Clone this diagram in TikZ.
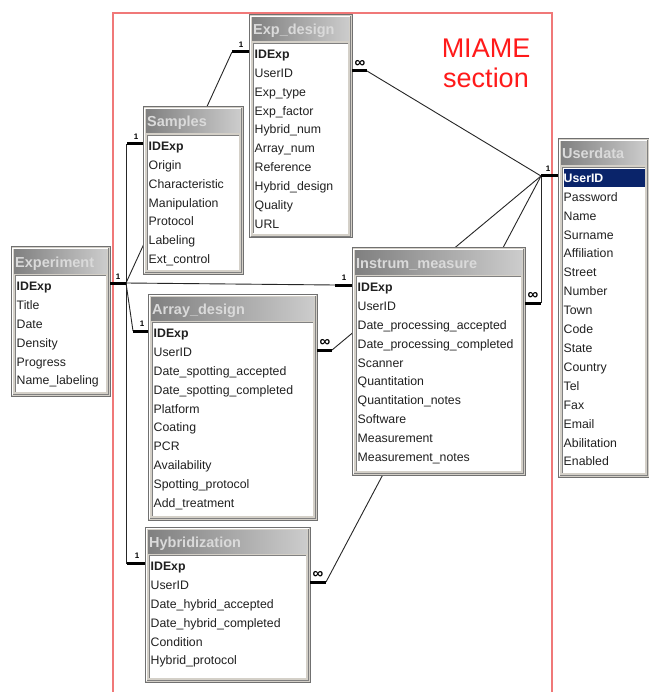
\documentclass[tikz,border=0pt]{standalone}
\usepackage{fontspec}
\setmainfont{Liberation Sans}
\definecolor{framegray}{HTML}{D4D0C8}
\definecolor{frameedge}{HTML}{707070}
\definecolor{tgleft}{HTML}{808080}
\definecolor{tgright}{HTML}{CCCCCC}
\definecolor{titletxt}{HTML}{DADADA}
\definecolor{hlnavy}{HTML}{0A246A}
\definecolor{redframe}{HTML}{F07878}
\definecolor{miamered}{HTML}{FF1A1A}
\definecolor{rowink}{HTML}{202020}
\tikzset{
  frame/.style={anchor=north west, inner sep=0pt, outer sep=0pt, fill=framegray, draw=frameedge, line width=1pt},
  rowtext/.style={anchor=base west, inner sep=0pt, font=\fontsize{12.3}{14}\selectfont, text=rowink},
  ttl/.style={anchor=base west, inner sep=0pt, font=\bfseries\fontsize{14.5}{16}\selectfont, text=titletxt},
  conn/.style={draw=black!85, line width=0.9pt},
  bar/.style={draw=black, line width=3pt},
  onelbl/.style={inner sep=0pt, font=\bfseries\fontsize{8}{8}\selectfont},
  manylbl/.style={inner sep=0pt, font=\bfseries\fontsize{15}{15}\selectfont},
  miame/.style={align=center, inner sep=0pt, text=miamered, font=\fontsize{27}{30}\selectfont},
}
\newcommand\hlrow[1]{{\setlength{\fboxsep}{0pt}\colorbox{hlnavy}{\rule[-5pt]{0pt}{18pt}\makebox[81pt][l]{\textcolor{white}{\bfseries #1}}}}}
% #1 name, #2 title, #3 left, #4 top, #5 right, #6 bottom, #7 rows
\newcommand\ertable[7]{%
  \node[frame, minimum width=#5pt-#3pt, minimum height=#6pt-#4pt] (#1) at (#3,#4) {};
  \draw[white, line width=1pt] (#3+1.5,#6-1.5) -- (#3+1.5,#4+1.5) -- (#5-1.5,#4+1.5);
  \draw[gray, line width=1.5pt] (#3+1.5,#6-1.5) -- (#5-1.5,#6-1.5) -- (#5-1.5,#4+1.5);
  \shade[left color=tgleft, right color=tgright] (#3+3,#4+3) rectangle (#5-3,#4+26);
  \node[ttl] (#1-t) at (#3+4,#4+20) {#2};
  \fill[white] (#3+4,#4+28) rectangle (#5-4,#6-4);
  \draw[gray, line width=1pt] (#3+4.5,#6-4.5) -- (#3+4.5,#4+28.5) -- (#5-4.5,#4+28.5);
  \foreach \r [count=\i] in {#7} \node[rowtext] (#1-\i) at (#3+5.5,#4+43.4+18.9*\i-18.9) {\r};
}
\begin{document}
\begin{tikzpicture}[x=1pt,y=-1pt]
\useasboundingbox (0,0) rectangle (648,692);
\fill[white] (0,0) rectangle (648,692);
% MIAME section frame
\draw[redframe, line width=1.3pt] (113,692) -- (113,13) -- (552,13) -- (552,692);
\node[miame] (miame) at (486,63) {MIAME\\section};
% ports
\coordinate (eP) at (110,283);
\coordinate (J) at (126,283);
\coordinate (sP1) at (127,144);
\coordinate (sP2) at (143,144);
\coordinate (edP1) at (232,52);
\coordinate (edP2) at (249,52);
\coordinate (edR1) at (352,71);
\coordinate (edR2) at (367,71);
\coordinate (imL1) at (335,285);
\coordinate (imL2) at (352,285);
\coordinate (adL1) at (133,331);
\coordinate (adL2) at (148,331);
\coordinate (hyL1) at (127,563);
\coordinate (hyL2) at (145,563);
\coordinate (imR1) at (525,303);
\coordinate (imR2) at (541,303);
\coordinate (adR1) at (317,350);
\coordinate (adR2) at (332,350);
\coordinate (hyR1) at (310,582);
\coordinate (hyR2) at (326,582);
\coordinate (uJ) at (541,176);
\coordinate (udL2) at (558,176);
% thin connectors (behind tables)
\draw[conn] (J) -- (J |- sP1) -- (sP1);
\draw[conn] (J) -- (edP1);
\draw[conn] (J) -- (imL1);
\draw[conn] (J) -- (adL1);
\draw[conn] (J) -- (J |- hyL1) -- (hyL1);
\draw[conn] (edR2) -- (uJ);
\draw[conn] (adR2) -- (uJ);
\draw[conn] (hyR2) -- (uJ);
\draw[conn] (imR2) -- (uJ);
% tables
\ertable{expd}{Exp\_design}{249}{15}{352}{238}{\textbf{IDExp},UserID,Exp\_type,Exp\_factor,Hybrid\_num,Array\_num,Reference,Hybrid\_design,Quality,URL}
\ertable{samp}{Samples}{143}{107}{243}{274}{\textbf{IDExp},Origin,Characteristic,Manipulation,Protocol,Labeling,Ext\_control}
\ertable{expt}{Experiment}{11}{247}{110}{396}{\textbf{IDExp},Title,Date,Density,Progress,Name\_labeling}
\ertable{inst}{Instrum\_measure}{352}{248}{525}{475}{\textbf{IDExp},UserID,Date\_processing\_accepted,Date\_processing\_completed,Scanner,Quantitation,Quantitation\_notes,Software,Measurement,Measurement\_notes}
\ertable{arr}{Array\_design}{148}{294}{317}{520}{\textbf{IDExp},UserID,Date\_spotting\_accepted,Date\_spotting\_completed,Platform,Coating,PCR,Availability,Spotting\_protocol,Add\_treatment}
\ertable{hyb}{Hybridization}{145}{527}{310}{682}{\textbf{IDExp},UserID,Date\_hybrid\_accepted,Date\_hybrid\_completed,Condition,Hybrid\_protocol}
\ertable{user}{Userdata}{558}{139}{649}{477}{\hlrow{UserID},Password,Name,Surname,Affiliation,Street,Number,Town,Code,State,Country,Tel,Fax,Email,Abilitation,Enabled}
% cardinality bars
\draw[bar] (eP) -- (J);
\draw[bar] (sP1) -- (sP2);
\draw[bar] (edP1) -- (edP2);
\draw[bar] (imL1) -- (imL2);
\draw[bar] (adL1) -- (adL2);
\draw[bar] (hyL1) -- (hyL2);
\draw[bar] (edR1) -- (edR2);
\draw[bar] (imR1) -- (imR2);
\draw[bar] (adR1) -- (adR2);
\draw[bar] (hyR1) -- (hyR2);
\draw[bar] (uJ) -- (udL2);
% cardinality labels
\node[onelbl] (l1) at (118,277) {1};
\node[onelbl] (l2) at (136,137) {1};
\node[onelbl] (l3) at (241,45) {1};
\node[onelbl] (l4) at (344,278) {1};
\node[onelbl] (l5) at (142,324) {1};
\node[onelbl] (l6) at (137,556) {1};
\node[onelbl] (l7) at (548,169) {1};
\node[manylbl] (m1) at (360,64) {∞};
\node[manylbl] (m2) at (533,296) {∞};
\node[manylbl] (m3) at (325,343) {∞};
\node[manylbl] (m4) at (318,575) {∞};
\end{tikzpicture}
\end{document}
